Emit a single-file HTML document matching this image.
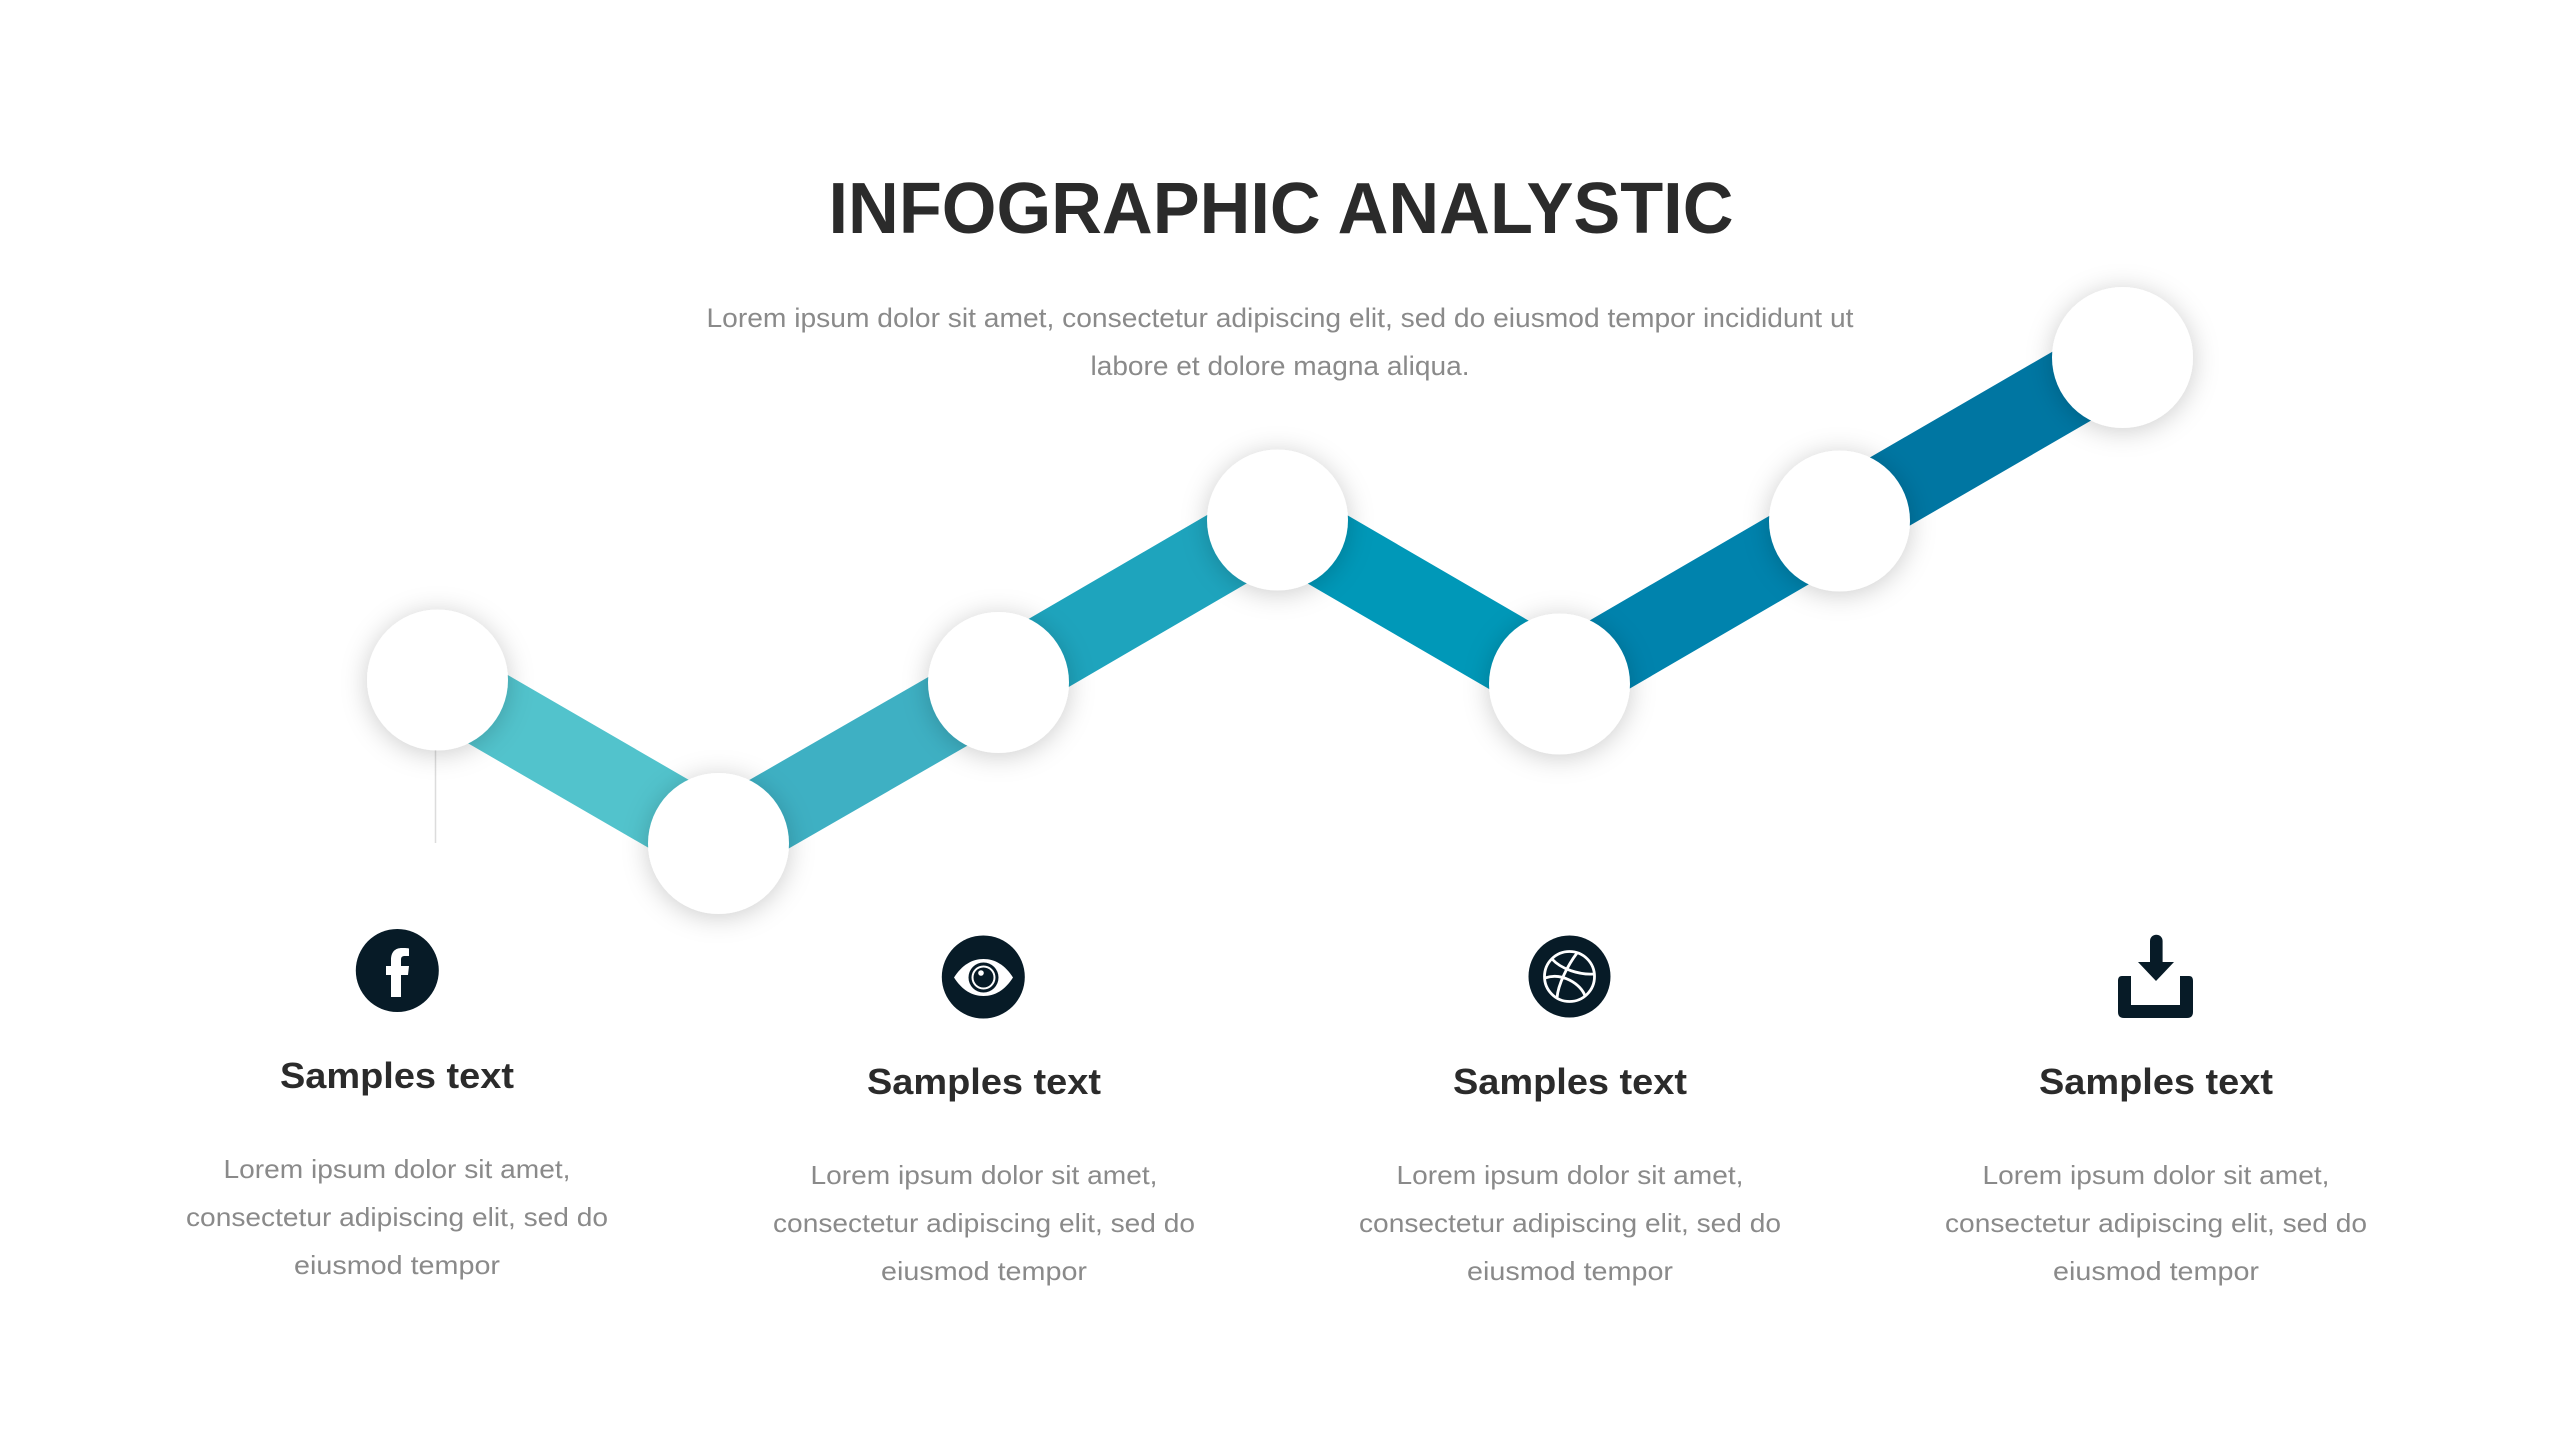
<!DOCTYPE html>
<html lang="en">
<head>
<meta charset="utf-8">
<title>Infographic Analystic</title>
<style>
html,body{margin:0;padding:0;background:#fff;width:2560px;height:1440px;overflow:hidden}
svg{display:block}
text{font-family:"Liberation Sans",sans-serif;text-anchor:middle}
.t{font-size:72px;font-weight:700;fill:#2b2b2b}
.s{font-size:27px;fill:#8a8a8a}
.h{font-size:36px;font-weight:700;fill:#2b2b2b}
.b{font-size:26px;fill:#8a8a8a}
</style>
</head>
<body>
<svg width="2560" height="1440" viewBox="0 0 2560 1440" xmlns="http://www.w3.org/2000/svg">
<defs>
<filter id="sh" x="-50%" y="-50%" width="200%" height="200%">
<feDropShadow dx="0" dy="3" stdDeviation="13" flood-color="#000" flood-opacity="0.2"/>
</filter>
</defs>
<rect width="2560" height="1440" fill="#fff"/>

<text class="t" x="1281" y="233" textLength="905" lengthAdjust="spacingAndGlyphs">INFOGRAPHIC ANALYSTIC</text>
<text class="s" x="1280" y="327" textLength="1147" lengthAdjust="spacingAndGlyphs">Lorem ipsum dolor sit amet, consectetur adipiscing elit, sed do eiusmod tempor incididunt ut</text>
<text class="s" x="1280" y="375" textLength="379" lengthAdjust="spacingAndGlyphs">labore et dolore magna aliqua.</text>

<line x1="435.5" y1="750" x2="435.5" y2="843" stroke="#dcdcdc" stroke-width="1.5"/>

<g fill="none" stroke-width="79">
<line x1="437.5" y1="680" x2="719" y2="843" stroke="#52c3cc"/>
<line x1="719" y1="843" x2="998" y2="682.500" stroke="#3eb0c3"/>
<line x1="998" y1="682.500" x2="1277" y2="520" stroke="#1ea4bd"/>
<line x1="1277" y1="520" x2="1559" y2="684" stroke="#0098b8"/>
<line x1="1559" y1="684" x2="1839" y2="521" stroke="#0083ad"/>
<line x1="1839" y1="521" x2="2122" y2="357" stroke="#0076a2"/>
</g>

<g fill="#fff" filter="url(#sh)">
<circle cx="437.500" cy="680" r="70.500"/>
<circle cx="718.500" cy="843.500" r="70.500"/>
<circle cx="998.500" cy="682.500" r="70.500"/>
<circle cx="1277.500" cy="520" r="70.500"/>
<circle cx="1559.500" cy="684" r="70.500"/>
<circle cx="1839.500" cy="521" r="70.500"/>
<circle cx="2122.500" cy="357.500" r="70.500"/>
</g>

<!-- facebook -->
<circle cx="397.300" cy="970.500" r="41.500" fill="#071b27"/>
<path d="M391 997V975H386V966H391V960C391 952 395 948 402 948C405 948 408 948 409 948.500V956H405C402 956 401 957 401 960V966H409L408 975H401V997Z" fill="#fff"/>

<!-- eye -->
<circle cx="983.300" cy="977" r="41.500" fill="#071b27"/>
<path d="M954 977.500C962 965 972 959 983.500 959C995 959 1005 965 1013 977.500C1005 990 995 996 983.500 996C972 996 962 990 954 977.500Z" fill="#fff"/>
<circle cx="983.500" cy="977.500" r="15" fill="#071b27"/>
<circle cx="983.500" cy="977.500" r="12" fill="#fff"/>
<circle cx="983.500" cy="977.500" r="10" fill="#071b27"/>
<circle cx="981" cy="973" r="2.800" fill="#fff"/>

<!-- dribbble -->
<circle cx="1569.500" cy="976.500" r="41" fill="#071b27"/>
<g fill="none" stroke="#fff" stroke-width="2.800">
<circle cx="1569.500" cy="976.500" r="25"/>
<path d="M1552 959C1561 969 1579 975 1594 974"/>
<path d="M1545 978C1562 972 1581 984 1585 996"/>
<path d="M1577 953C1568 965 1558 984 1557 998"/>
</g>

<!-- download -->
<path d="M2118 981C2118 978 2119 976 2122 976H2131V1005H2180V976H2189C2192 976 2193 978 2193 981V1012C2193 1016 2191 1018 2187 1018H2124C2120 1018 2118 1016 2118 1012Z" fill="#071b27"/>
<path d="M2150 941A6.300 6.300 0 0 1 2162.600 941V962H2174L2156 981L2138 962H2150Z" fill="#071b27"/>

<!-- column 1 -->
<text class="h" x="397" y="1088" textLength="234" lengthAdjust="spacingAndGlyphs">Samples text</text>
<text class="b" x="397" y="1178" textLength="347" lengthAdjust="spacingAndGlyphs">Lorem ipsum dolor sit amet,</text>
<text class="b" x="397" y="1226" textLength="422" lengthAdjust="spacingAndGlyphs">consectetur adipiscing elit, sed do</text>
<text class="b" x="397" y="1274" textLength="206" lengthAdjust="spacingAndGlyphs">eiusmod tempor</text>

<!-- column 2 -->
<text class="h" x="984" y="1094" textLength="234" lengthAdjust="spacingAndGlyphs">Samples text</text>
<text class="b" x="984" y="1184" textLength="347" lengthAdjust="spacingAndGlyphs">Lorem ipsum dolor sit amet,</text>
<text class="b" x="984" y="1232" textLength="422" lengthAdjust="spacingAndGlyphs">consectetur adipiscing elit, sed do</text>
<text class="b" x="984" y="1280" textLength="206" lengthAdjust="spacingAndGlyphs">eiusmod tempor</text>

<!-- column 3 -->
<text class="h" x="1570" y="1094" textLength="234" lengthAdjust="spacingAndGlyphs">Samples text</text>
<text class="b" x="1570" y="1184" textLength="347" lengthAdjust="spacingAndGlyphs">Lorem ipsum dolor sit amet,</text>
<text class="b" x="1570" y="1232" textLength="422" lengthAdjust="spacingAndGlyphs">consectetur adipiscing elit, sed do</text>
<text class="b" x="1570" y="1280" textLength="206" lengthAdjust="spacingAndGlyphs">eiusmod tempor</text>

<!-- column 4 -->
<text class="h" x="2156" y="1094" textLength="234" lengthAdjust="spacingAndGlyphs">Samples text</text>
<text class="b" x="2156" y="1184" textLength="347" lengthAdjust="spacingAndGlyphs">Lorem ipsum dolor sit amet,</text>
<text class="b" x="2156" y="1232" textLength="422" lengthAdjust="spacingAndGlyphs">consectetur adipiscing elit, sed do</text>
<text class="b" x="2156" y="1280" textLength="206" lengthAdjust="spacingAndGlyphs">eiusmod tempor</text>
</svg>
</body>
</html>
